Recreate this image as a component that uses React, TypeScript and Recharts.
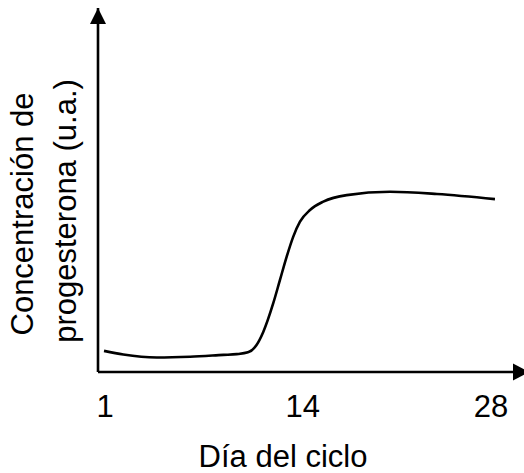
import { LineChart, Line, XAxis, YAxis, ReferenceDot, Label } from "recharts";

// values (day of cycle, arbitrary units)
const days = [0.93, 2.28, 4.62, 6.95, 9.28, 10.21, 11.0, 11.6, 12.07, 12.77, 13.24, 13.71, 14.17, 14.64, 15.34, 16.27, 17.91, 20.94, 24.22, 28.28];
const progesterone = [5.8, 4.8, 4.0, 4.2, 4.7, 4.9, 5.4, 7.4, 11.0, 18.9, 25.3, 31.7, 37.2, 41.3, 44.5, 46.8, 48.6, 49.5, 48.9, 47.5];
const dayTicks = [1, 14, 28];
const xDomain = [0.51, 30.31];
const yDomain = [0, 100];

const yLabelLines = ["Concentración de", "progesterona (u.a.)"];
const xLabel = "Día del ciclo";

const font = "'Liberation Sans', Arial, Helvetica, sans-serif";
const ink = "#000";
const fontSize = 31;

const data = days.map((d, i) => ({ day: d, value: progesterone[i] }));

function DayTick({ x, y, payload }: any) {
  // the "14" sits a little right of a linear position in the original drawing
  const nudge = payload.value === 14 ? 12 : 0;
  return (
    <text x={x + nudge} y={y} dy="0.71em" textAnchor="middle" fill={ink}
      fontFamily={font} fontSize={fontSize}>
      {payload.value}
    </text>
  );
}

function XTitle({ viewBox }: any) {
  const cx = viewBox.x + viewBox.width / 2 - 28;
  return (
    <text x={cx} y={viewBox.y + 95} textAnchor="middle" fill={ink}
      fontFamily={font} fontSize={fontSize}>
      {xLabel}
    </text>
  );
}

function YTitle({ viewBox }: any) {
  const left = viewBox.x + viewBox.width;
  return (
    <g fill={ink} fontFamily={font} fontSize={fontSize}>
      <text transform={`translate(${left - 65}, 214) rotate(-90)`} textAnchor="middle">
        {yLabelLines[0]}
      </text>
      <text transform={`translate(${left - 22}, 211) rotate(-90)`} textAnchor="middle">
        {yLabelLines[1]}
      </text>
    </g>
  );
}

const upArrow = (p: any) => (
  <polygon points={`${p.cx},${p.cy} ${p.cx - 8},${p.cy + 16} ${p.cx + 8},${p.cy + 16}`} fill={ink} />
);
const rightArrow = (p: any) => (
  <polygon points={`${p.cx + 5},${p.cy} ${p.cx - 11},${p.cy - 8.5} ${p.cx - 11},${p.cy + 8.5}`} fill={ink} />
);

export default function App() {
  return (
    <div style={{ position: "absolute", left: 0, top: 0, background: "#fff" }}>
      <LineChart width={524} height={473} data={data} margin={{ top: 8, right: 0, bottom: 0, left: 97 }}>
        <XAxis dataKey="day" type="number" domain={xDomain} ticks={dayTicks} interval={0}
          tickLine={false} tickSize={0} tickMargin={23} tick={<DayTick />} height={101}
          axisLine={{ stroke: ink, strokeWidth: 2.6 }}>
          <Label content={<XTitle />} />
        </XAxis>
        <YAxis type="number" domain={yDomain} tick={false} tickLine={false} width={1}
          axisLine={{ stroke: ink, strokeWidth: 2.6 }}>
          <Label content={<YTitle />} />
        </YAxis>
        <Line type="monotone" dataKey="value" stroke={ink} strokeWidth={2.6}
          dot={false} activeDot={false} isAnimationActive={false} />
        <ReferenceDot x={xDomain[0]} y={yDomain[1]} ifOverflow="visible" shape={upArrow} />
        <ReferenceDot x={xDomain[1]} y={yDomain[0]} ifOverflow="visible" shape={rightArrow} />
      </LineChart>
    </div>
  );
}
